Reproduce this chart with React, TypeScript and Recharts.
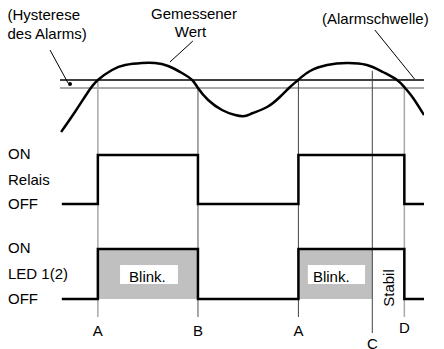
import React from 'react';
import {
  ComposedChart,
  Line,
  Area,
  XAxis,
  YAxis,
  ReferenceLine,
  ReferenceArea,
  ReferenceDot
} from 'recharts';

// measured value over time (time 0..100, value in arbitrary units)
const TIME = [0.3, 4.1, 7.7, 10.4, 14.3, 17.9, 22.5, 26.1, 29.7, 33.5, 36.3, 37.9, 40.7, 44.5, 48.1, 50.8,
  53.0, 56.9, 60.4, 63.2, 65.4, 68.7, 73.4, 78.8, 84.3, 88.7, 92.6, 94.8, 97.0, 100];
const MEASURED = [54, 64, 74, 80, 85, 87.5, 88.5, 88.5, 87, 83.5, 80, 76, 70, 65, 62.5, 62,
  63.5, 66.5, 71.5, 76.5, 80, 84.5, 87.5, 88.5, 87.5, 84, 80, 76, 71, 62.5];

const ALARM = 80;
const HYSTERESIS = 76;

// switching points
const EVENT_LABELS = ['A', 'B', 'A', 'C', 'D'];
const EVENT_TIMES = [10.4, 37.9, 65.5, 85.8, 94.6];

const RELAY_TIME = [0.5, 10.4, 37.9, 65.5, 94.6, 100];
const RELAY_STATE = [0, 1, 0, 1, 0, 0];

const LED_TIME = [0.5, 10.4, 37.9, 65.5, 94.6, 100];
const LED_STATE = [0, 1, 0, 1, 0, 0];

// blinking phases of the LED
const BLINK_TIME = [10.4, 37.9, 65.5, 85.8];
const BLINK_STATE = [1, 0, 1, 0];
const BLINK_LABEL_FROM = [16.5, 68.1];
const BLINK_LABEL_TO = [32.4, 83.8];

const RELAY_TICKS = [0, 0.5, 1];
const RELAY_TICK_LABELS = ['OFF', 'Relais', 'ON'];
const LED_TICKS = [0, 0.5, 1];
const LED_TICK_LABELS = ['OFF', 'LED 1(2)', 'ON'];

const W = 444;
const H = 349;
const FONT = '"Liberation Sans", Arial, Helvetica, sans-serif';

// domain so that vTop sits at pxTop and vBottom at pxBottom
function fitDomain(vTop: number, pxTop: number, vBottom: number, pxBottom: number): [number, number] {
  const s = (pxBottom - pxTop) / (vTop - vBottom);
  const max = vTop + pxTop / s;
  return [max - H / s, max];
}

const VALUE_DOMAIN = fitDomain(ALARM, 80, HYSTERESIS, 88);
const RELAY_DOMAIN = fitDomain(1, 155, 0, 204);
const LED_DOMAIN = fitDomain(1, 249, 0, 299);

const curveData = TIME.map((t, i) => ({ t, v: MEASURED[i] }));
const relayData = RELAY_TIME.map((t, i) => ({ t, s: RELAY_STATE[i] }));
const ledData = LED_TIME.map((t, i) => ({ t, s: LED_STATE[i] }));
const blinkData = BLINK_TIME.map((t, i) => ({ t, b: BLINK_STATE[i] }));

// marker styles: top / bottom (value axis), colour, width, label baseline
const MARKER_STYLE = [
  { top: ALARM, bottom: -38.5, color: '#a8a8a8', width: 1.5, labelAt: -47.9 },
  { top: HYSTERESIS, bottom: -38.5, color: '#8c8c8c', width: 1.5, labelAt: -47.9 },
  { top: ALARM, bottom: -38.5, color: '#444', width: 1, labelAt: -47.9 },
  { top: 84.6, bottom: -46.5, color: '#444', width: 1, labelAt: -54.5 },
  { top: HYSTERESIS, bottom: -38.5, color: '#a8a8a8', width: 1.5, labelAt: -46.7 }
];

// leader lines of the captions
const POINTERS = [
  [{ x: -2.75, y: 95 }, { x: 2.2, y: 78.5 }],
  [{ x: 36.5, y: 99.5 }, { x: 30.2, y: 89 }],
  [{ x: 86.5, y: 105 }, { x: 97.4, y: 80.5 }]
];

const sideTick = (ticks: number[], labels: string[]) => (props: any) => {
  const idx = ticks.indexOf(props.payload.value);
  return (
    <text x={8} y={props.y + (idx === 2 ? 4 : 5)} fontSize={15} fontFamily={FONT} fill="#000">
      {labels[idx]}
    </text>
  );
};

const App: React.FC = () => {
  return (
    <div style={{ position: 'absolute', left: 0, top: 0, width: W, height: H, background: '#fff' }}>
      <ComposedChart width={W} height={H} margin={{ top: 0, right: 20, bottom: 0, left: 0 }}>
        <XAxis type="number" dataKey="t" domain={[0, 100]} allowDataOverflow hide />
        <YAxis yAxisId="value" type="number" domain={VALUE_DOMAIN} allowDataOverflow hide />
        <YAxis
          yAxisId="relay"
          type="number"
          domain={RELAY_DOMAIN}
          allowDataOverflow
          width={30}
          ticks={RELAY_TICKS}
          interval={0}
          axisLine={false}
          tickLine={false}
          tick={sideTick(RELAY_TICKS, RELAY_TICK_LABELS)}
        />
        <YAxis
          yAxisId="led"
          type="number"
          domain={LED_DOMAIN}
          allowDataOverflow
          width={30}
          ticks={LED_TICKS}
          interval={0}
          axisLine={false}
          tickLine={false}
          tick={sideTick(LED_TICKS, LED_TICK_LABELS)}
        />

        <Area
          yAxisId="led"
          data={blinkData}
          dataKey="b"
          type="stepAfter"
          baseValue={0}
          stroke="none"
          fill="#c0c0c0"
          fillOpacity={1}
          isAnimationActive={false}
          zIndex={100}
        />
        {BLINK_LABEL_FROM.map((x1, i) => (
          <ReferenceArea
            key={'blink' + i}
            yAxisId="led"
            x1={x1}
            x2={BLINK_LABEL_TO[i]}
            y1={0.3}
            y2={0.68}
            fill="#fff"
            fillOpacity={1}
            stroke="none"
            zIndex={150}
            label={(p: any) => (
              <text
                x={p.viewBox.x + (i === 0 ? 9 : 5)}
                y={p.viewBox.y + p.viewBox.height - 2}
                fontSize={15}
                fontFamily={FONT}
                fill="#000"
              >
                Blink.
              </text>
            )}
          />
        ))}

        <ReferenceLine yAxisId="value" y={ALARM} stroke="#000" strokeWidth={1.6} />
        <ReferenceLine yAxisId="value" y={HYSTERESIS} stroke="#555" strokeWidth={1} />

        {EVENT_TIMES.map((t, i) => (
          <ReferenceLine
            key={'ev' + i}
            yAxisId="value"
            segment={[{ x: t, y: MARKER_STYLE[i].top }, { x: t, y: MARKER_STYLE[i].bottom }]}
            stroke={MARKER_STYLE[i].color}
            strokeWidth={MARKER_STYLE[i].width}
            ifOverflow="visible"
          />
        ))}
        {EVENT_TIMES.map((t, i) => (
          <ReferenceDot
            key={'evl' + i}
            yAxisId="value"
            x={t}
            y={MARKER_STYLE[i].labelAt}
            r={0}
            fill="none"
            stroke="none"
            ifOverflow="visible"
            label={(p: any) => (
              <text x={p.viewBox.x} y={p.viewBox.y} textAnchor="middle" fontSize={15} fontFamily={FONT} fill="#000">
                {EVENT_LABELS[i]}
              </text>
            )}
          />
        ))}

        <ReferenceDot
          yAxisId="led"
          x={(EVENT_TIMES[3] + EVENT_TIMES[4]) / 2}
          y={0.22}
          r={0}
          fill="none"
          stroke="none"
          label={(p: any) => (
            <text
              x={p.viewBox.x}
              y={p.viewBox.y}
              transform={`rotate(-90 ${p.viewBox.x} ${p.viewBox.y})`}
              textAnchor="middle"
              dominantBaseline="central"
              fontSize={15}
              fontFamily={FONT}
              fill="#000"
            >
              Stabil
            </text>
          )}
        />

        {POINTERS.map((seg, i) => (
          <ReferenceLine
            key={'ptr' + i}
            yAxisId="value"
            segment={seg}
            stroke="#000"
            strokeWidth={1}
            ifOverflow="visible"
          />
        ))}
        <ReferenceDot yAxisId="value" x={2.75} y={78} r={2} fill="#000" stroke="none" ifOverflow="visible" />

        <Line
          yAxisId="value"
          data={curveData}
          dataKey="v"
          type="natural"
          stroke="#000"
          strokeWidth={2.5}
          dot={false}
          isAnimationActive={false}
        />
        <Line
          yAxisId="relay"
          data={relayData}
          dataKey="s"
          type="stepAfter"
          stroke="#000"
          strokeWidth={2.5}
          dot={false}
          isAnimationActive={false}
        />
        <Line
          yAxisId="led"
          data={ledData}
          dataKey="s"
          type="stepAfter"
          stroke="#000"
          strokeWidth={2.5}
          dot={false}
          isAnimationActive={false}
        />
      </ComposedChart>

      <svg
        width={W}
        height={H}
        style={{ position: 'absolute', left: 0, top: 0, pointerEvents: 'none' }}
        fontFamily={FONT}
        fontSize={15}
      >
        <text x={7.5} y={20}>(Hysterese</text>
        <text x={7.5} y={38.5}>des Alarms)</text>
        <text x={194} y={18.5} textAnchor="middle">Gemessener</text>
        <text x={190.5} y={36.5} textAnchor="middle">Wert</text>
        <text x={322} y={23.5}>(Alarmschwelle)</text>
      </svg>
    </div>
  );
};

export default App;
